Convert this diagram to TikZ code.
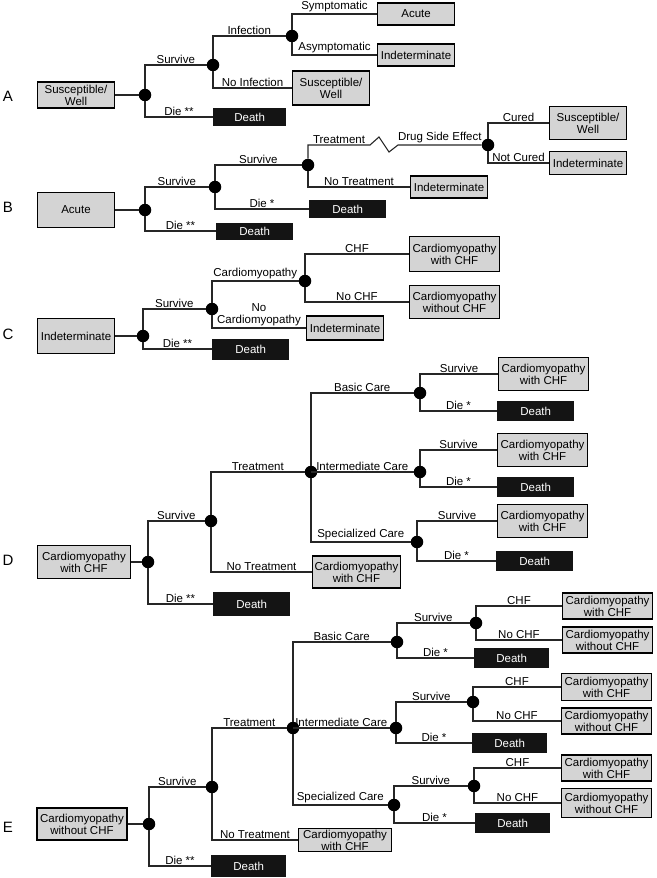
\documentclass[tikz,border=0pt]{standalone}
\usepackage{fontspec}
\setmainfont{Liberation Sans}
\usetikzlibrary{shapes}
\definecolor{boxgray}{RGB}{212,212,212}
\tikzset{
  state_box/.style = {
    rectangle,
    draw=black,
    fill=boxgray,
    line width=1.1pt,
    font=\fontsize{11.5}{11.8}\selectfont,
    align=center,
    minimum width=77pt,
    minimum height=22pt,
    inner sep=2pt
  },
  cm_box/.style = {
    state_box,
    minimum width=90pt,
    minimum height=33pt
  },
  death_box/.style = {
    rectangle,
    fill=black!92,
    text=white,
    font=\fontsize{11.5}{12}\selectfont,
    minimum width=77pt,
    minimum height=20pt,
    inner sep=2pt
  },
  chance_node/.style = {
    circle,
    fill=black,
    minimum size=12.5pt,
    inner sep=0pt
  },
  tree_line/.style = {
    line width=1.1pt,
    black!85
  },
  branch_label/.style = {
    above,
    pos=0.75,
    text=black,
    inner sep=1.3pt,
    align=center,
    font=\fontsize{11.5}{12}\selectfont
  },
  panel_letter/.style = {
    font=\fontsize{15}{15}\selectfont
  }
}

\begin{document}
\begin{tikzpicture}[x=1pt, y=-1pt]
\useasboundingbox (0,0) rectangle (656,878);

% A - Susceptible/Well
\node[panel_letter] (labA) at (8,96) {A};
\node[state_box, minimum height=26pt] (a0) at (76,95) {Susceptible/\\Well};
\node[chance_node] (aC1) at (145,95) {};
\node[chance_node] (aC2) at (213,65) {};
\node[death_box, anchor=west, minimum width=73pt, minimum height=18pt] (aDth) at (213,117) {Death};
\node[chance_node] (aC3) at (292,36) {};
\node[state_box, anchor=west, minimum height=34pt] (aSW) at (292,88) {Susceptible/\\Well};
\node[state_box, anchor=west] (aAc) at (377,14) {Acute};
\node[state_box, anchor=west] (aInd) at (377,55) {Indeterminate};

\draw[tree_line] (a0) -- (aC1);
\draw[tree_line] (aC1) |- (aC2) node[branch_label] {Survive};
\draw[tree_line] (aC1) |- (aDth) node[branch_label] {Die **};
\draw[tree_line] (aC2) |- (aC3) node[branch_label] {Infection};
\draw[tree_line] (aC2) |- (aSW) node[branch_label] {No Infection};
\draw[tree_line] (aC3) |- (aAc) node[branch_label] {Symptomatic};
\draw[tree_line] (aC3) |- (aInd) node[branch_label] {Asymptomatic};

% B - Acute
\node[panel_letter] (labB) at (8,207) {B};
\node[state_box, minimum height=35pt] (b0) at (76,210) {Acute};
\node[chance_node] (bC1) at (145,210) {};
\node[chance_node] (bC2) at (215,187) {};
\node[death_box, anchor=west, minimum height=17pt] (bDth1) at (216,231) {Death};
\node[chance_node] (bC3) at (308,165) {};
\node[death_box, anchor=west, minimum height=18pt] (bDth2) at (309,209) {Death};
\coordinate (bZig) at (370,145);
\node[chance_node] (bC4) at (488,145) {};
\node[state_box, anchor=west] (bInd1) at (410,187) {Indeterminate};
\node[state_box, anchor=west, minimum height=33pt] (bSW) at (549,123) {Susceptible/\\Well};
\node[state_box, anchor=west, minimum height=23pt] (bInd2) at (549,163) {Indeterminate};

\draw[tree_line] (b0) -- (bC1);
\draw[tree_line] (bC1) |- (bC2) node[branch_label] {Survive};
\draw[tree_line] (bC1) |- (bDth1) node[branch_label] {Die **};
\draw[tree_line] (bC2) |- (bC3) node[branch_label] {Survive};
\draw[tree_line] (bC2) |- (bDth2) node[branch_label] {Die *};
\draw[tree_line] (bC3) |- (bZig) node[branch_label] {Treatment}
  -- ++(9,-8) -- ++(10,15) -- ++(9,-7) -- (bC4) node[branch_label, pos=0.5] {Drug Side Effect};
\draw[tree_line] (bC3) |- (bInd1) node[branch_label] {No Treatment};
\draw[tree_line] (bC4) |- (bSW) node[branch_label] {Cured};
\draw[tree_line] (bC4) |- (bInd2) node[branch_label] {Not Cured};

% C - Indeterminate
\node[panel_letter] (labC) at (8,334) {C};
\node[state_box, minimum height=35pt] (c0) at (76,336) {Indeterminate};
\node[chance_node] (cC1) at (143,336) {};
\node[chance_node] (cC2) at (212,309) {};
\node[death_box, anchor=west, minimum height=21pt] (cDth) at (212,349) {Death};
\node[chance_node] (cC3) at (305,281) {};
\node[state_box, anchor=west, minimum height=24pt] (cInd) at (306,328) {Indeterminate};
\node[cm_box, anchor=west, minimum height=35pt] (cCwith) at (409,254) {Cardiomyopathy\\with CHF};
\node[cm_box, anchor=west] (cCwo) at (409,302) {Cardiomyopathy\\without CHF};

\draw[tree_line] (c0) -- (cC1);
\draw[tree_line] (cC1) |- (cC2) node[branch_label] {Survive};
\draw[tree_line] (cC1) |- (cDth) node[branch_label] {Die **};
\draw[tree_line] (cC2) |- (cC3) node[branch_label] {Cardiomyopathy};
\draw[tree_line] (cC2) |- (cInd) node[branch_label] {No\\Cardiomyopathy};
\draw[tree_line] (cC3) |- (cCwith) node[branch_label] {CHF};
\draw[tree_line] (cC3) |- (cCwo) node[branch_label] {No CHF};

% D - Cardiomyopathy with CHF
\node[panel_letter] (labD) at (8,560) {D};
\node[cm_box, minimum width=93pt] (d0) at (84,562) {Cardiomyopathy\\with CHF};
\node[chance_node] (dC1) at (148,562) {};
\node[chance_node] (dC2) at (211,521) {};
\node[death_box, anchor=west, minimum height=24pt] (dDth) at (213,604) {Death};
\node[chance_node] (dC3) at (311,472) {};
\node[state_box, anchor=west, minimum height=32pt] (dNT) at (312,572) {Cardiomyopathy\\with CHF};
\node[chance_node] (dB) at (420,393) {};
\node[chance_node] (dI) at (420,472) {};
\node[chance_node] (dS) at (417,542) {};
\node[cm_box, anchor=west] (dBS) at (498,374) {Cardiomyopathy\\with CHF};
\node[death_box, anchor=west] (dBD) at (497,411) {Death};
\node[cm_box, anchor=west] (dIS) at (497,450) {Cardiomyopathy\\with CHF};
\node[death_box, anchor=west] (dID) at (497,487) {Death};
\node[cm_box, anchor=west] (dSS) at (497,521) {Cardiomyopathy\\with CHF};
\node[death_box, anchor=west] (dSD) at (496,561) {Death};

\draw[tree_line] (d0) -- (dC1);
\draw[tree_line] (dC1) |- (dC2) node[branch_label] {Survive};
\draw[tree_line] (dC1) |- (dDth) node[branch_label] {Die **};
\draw[tree_line] (dC2) |- (dC3) node[branch_label] {Treatment};
\draw[tree_line] (dC2) |- (dNT) node[branch_label] {No Treatment};
\draw[tree_line] (dC3) |- (dB) node[branch_label] {Basic Care};
\draw[tree_line] (dC3) |- (dI) node[branch_label] {Intermediate Care};
\draw[tree_line] (dC3) |- (dS) node[branch_label] {Specialized Care};
\draw[tree_line] (dB) |- (dBS) node[branch_label] {Survive};
\draw[tree_line] (dB) |- (dBD) node[branch_label] {Die *};
\draw[tree_line] (dI) |- (dIS) node[branch_label] {Survive};
\draw[tree_line] (dI) |- (dID) node[branch_label] {Die *};
\draw[tree_line] (dS) |- (dSS) node[branch_label] {Survive};
\draw[tree_line] (dS) |- (dSD) node[branch_label] {Die *};

% E - Cardiomyopathy without CHF
\node[panel_letter] (labE) at (8,827) {E};
\node[cm_box, minimum height=32pt] (e0) at (82,824) {Cardiomyopathy\\without CHF};
\node[chance_node] (eC1) at (149,824) {};
\node[chance_node] (eC2) at (212,787) {};
\node[death_box, anchor=west, minimum width=75pt, minimum height=22pt] (eDth) at (211,866) {Death};
\node[chance_node] (eC3) at (293,728) {};
\node[state_box, anchor=west, minimum width=93pt, inner sep=1pt] (eNT) at (298,840) {Cardiomyopathy\\with CHF};
\node[chance_node] (eB) at (397,642) {};
\node[chance_node] (eI) at (396,728) {};
\node[chance_node] (eS) at (394,805) {};
\node[chance_node] (eBC) at (476,623) {};
\node[death_box, anchor=west, minimum width=75pt] (eBD) at (474,658) {Death};
\node[chance_node] (eIC) at (473,702) {};
\node[death_box, anchor=west, minimum width=75pt] (eID) at (472,743) {Death};
\node[chance_node] (eSC) at (474,786) {};
\node[death_box, anchor=west, minimum width=75pt] (eSD) at (475,823) {Death};
\node[cm_box, anchor=west, minimum height=26pt, inner sep=1pt] (eBCa) at (562,606) {Cardiomyopathy\\with CHF};
\node[cm_box, anchor=west, minimum height=26pt, inner sep=1pt] (eBCb) at (562,640) {Cardiomyopathy\\without CHF};
\node[cm_box, anchor=west, minimum height=27pt, inner sep=1pt] (eICa) at (561,687) {Cardiomyopathy\\with CHF};
\node[cm_box, anchor=west, minimum height=26pt, inner sep=1pt] (eICb) at (561,721) {Cardiomyopathy\\without CHF};
\node[cm_box, anchor=west, minimum height=26pt, inner sep=1pt] (eSCa) at (561,768) {Cardiomyopathy\\with CHF};
\node[cm_box, anchor=west, minimum height=29pt, inner sep=1pt] (eSCb) at (561,803) {Cardiomyopathy\\without CHF};

\draw[tree_line] (e0) -- (eC1);
\draw[tree_line] (eC1) |- (eC2) node[branch_label] {Survive};
\draw[tree_line] (eC1) |- (eDth) node[branch_label] {Die **};
\draw[tree_line] (eC2) |- (eC3) node[branch_label] {Treatment};
\draw[tree_line] (eC2) |- (eNT) node[branch_label] {No Treatment};
\draw[tree_line] (eC3) |- (eB) node[branch_label] {Basic Care};
\draw[tree_line] (eC3) |- (eI) node[branch_label] {Intermediate Care};
\draw[tree_line] (eC3) |- (eS) node[branch_label] {Specialized Care};
\draw[tree_line] (eB) |- (eBC) node[branch_label] {Survive};
\draw[tree_line] (eB) |- (eBD) node[branch_label] {Die *};
\draw[tree_line] (eI) |- (eIC) node[branch_label] {Survive};
\draw[tree_line] (eI) |- (eID) node[branch_label] {Die *};
\draw[tree_line] (eS) |- (eSC) node[branch_label] {Survive};
\draw[tree_line] (eS) |- (eSD) node[branch_label] {Die *};
\draw[tree_line] (eBC) |- (eBCa) node[branch_label] {CHF};
\draw[tree_line] (eBC) |- (eBCb) node[branch_label] {No CHF};
\draw[tree_line] (eIC) |- (eICa) node[branch_label] {CHF};
\draw[tree_line] (eIC) |- (eICb) node[branch_label] {No CHF};
\draw[tree_line] (eSC) |- (eSCa) node[branch_label] {CHF};
\draw[tree_line] (eSC) |- (eSCb) node[branch_label] {No CHF};

\end{tikzpicture}
\end{document}
